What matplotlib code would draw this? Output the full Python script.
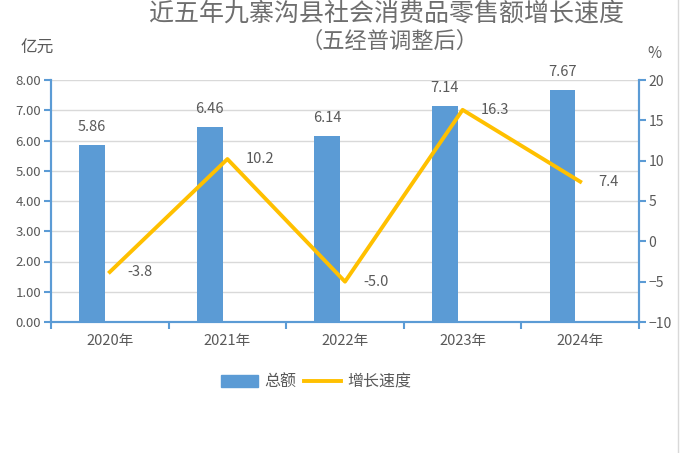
import matplotlib.pyplot as plt
import numpy as np

plt.rcParams['font.family'] = ['Noto Sans CJK SC', 'DejaVu Sans']

# 数据
years = ['2020年', '2021年', '2022年', '2023年', '2024年']
total = [5.86, 6.46, 6.14, 7.14, 7.67]
growth = [-3.8, 10.2, -5.0, 16.3, 7.4]

blue = '#5B9BD5'
gold = '#FFC000'
txt = '#595959'

W, H = 684, 453
fig = plt.figure(figsize=(6.84, 4.53), dpi=100)
ax = fig.add_axes([51/W, 1-322/H, (639-51)/W, (322-80)/H])
ax2 = ax.twinx()

x = np.arange(len(years))
ax.bar(x - 0.15, total, width=0.22, color=blue, zorder=3)
for xi, v in zip(x, total):
    ax.annotate('%.2f' % v, (xi - 0.15, v), xytext=(0, 13), textcoords='offset points',
                ha='center', va='center', fontsize=10.5, color=txt)

ax.set_xlim(-0.5, 4.5)
ax.set_ylim(0, 8)
ticks = np.arange(0, 8.01, 1)
ax.set_yticks(ticks)
ax.set_yticklabels(['%.2f' % t for t in ticks])
ax.set_xticks(x)
ax.set_xticklabels(years)
ax.set_xticks(np.arange(-0.5, 4.6, 1), minor=True)
ax.tick_params(axis='x', which='major', length=0, pad=9, labelsize=10.5, labelcolor=txt)
ax.tick_params(axis='x', which='minor', length=5, color=blue, width=1.5, direction='out')
ax.tick_params(axis='y', length=5, color=blue, width=1.5, labelsize=9.5, labelcolor=txt, pad=2)
ax.grid(axis='y', color='#D9D9D9', lw=1.0, zorder=0)

ax2.plot(x, growth, color=gold, lw=2.8, zorder=4)
for xi, v in zip(x, growth):
    ax2.annotate('%.1f' % v, (xi, v), xytext=(13, 0), textcoords='offset points',
                 ha='left', va='center', fontsize=10.5, color=txt)
ax2.set_ylim(-10, 20)
ax2.set_yticks(np.arange(-10, 21, 5))
ax2.tick_params(axis='y', length=5, color=blue, width=1.5, labelsize=10, labelcolor=txt, pad=2)

for a in (ax, ax2):
    for s in a.spines.values():
        s.set_color(blue)
        s.set_linewidth(1.5)
    a.spines['top'].set_visible(False)

# 标题
fig.text(387/W, 1-14/H, '近五年九寨沟县社会消费品零售额增长速度', ha='center', va='center',
         fontsize=18, color='#6E6E6E')
fig.text(390/W, 1-41/H, '（五经普调整后）', ha='center', va='center',
         fontsize=16, color='#6E6E6E')
fig.text(37/W, 1-48/H, '亿元', ha='center', va='center', fontsize=12, color=txt)
fig.text(654/W, 1-54/H, '%', ha='center', va='center', fontsize=11, color=txt)

# 右侧边框线
fig.add_artist(plt.Line2D([678/W, 678/W], [0, 1], color='#D9D9D9', lw=1))

h1 = plt.Rectangle((0, 0), 1, 1, color=blue)
h2 = plt.Line2D([], [], color=gold, lw=2.8)
fig.legend([h1, h2], ['总额', '增长速度'], loc='center', bbox_to_anchor=(316/W, 1-382/H),
           ncol=2, frameon=False, fontsize=11.5, labelcolor=txt, handlelength=2.3,
           handletextpad=0.4, columnspacing=0.5)

fig.savefig('out.png')
